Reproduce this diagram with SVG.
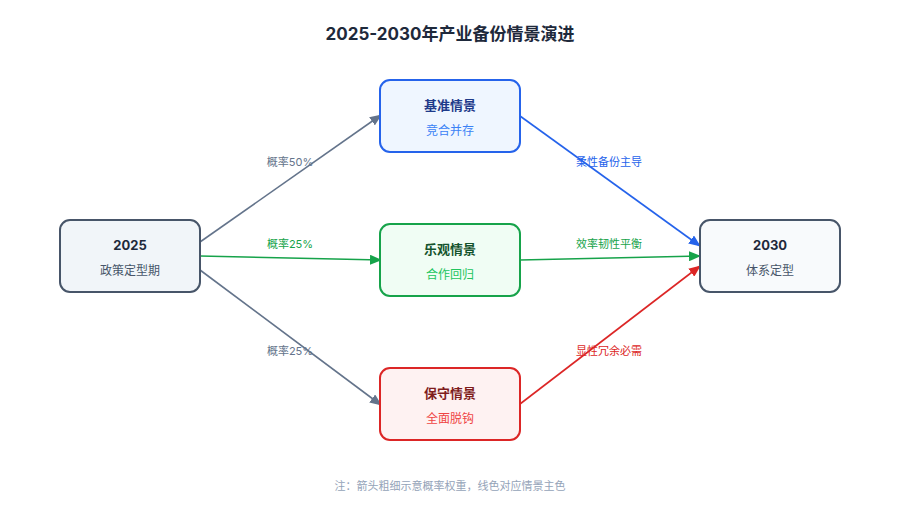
<svg xmlns="http://www.w3.org/2000/svg" width="900" height="520" viewBox="0 0 900 520">
<style>
text{font-family:"Inter","Noto Sans CJK SC",sans-serif;text-anchor:middle}
.title{font-size:17px;font-weight:700;fill:#1e293b}
.nt{font-size:13px;font-weight:700}
.ns{font-size:12px}
.lbl{font-size:11px}
.edge{fill:none;stroke-width:1.6}
.note{font-size:11px;fill:#94a3b8}
</style>
<defs>
<marker id="ag" viewBox="0 0 12 10" refX="11" refY="5" markerWidth="12" markerHeight="10" markerUnits="userSpaceOnUse" orient="auto"><path d="M0,0L12,5L0,10z" fill="#64748b"/></marker>
<marker id="agr" viewBox="0 0 12 10" refX="11" refY="5" markerWidth="12" markerHeight="10" markerUnits="userSpaceOnUse" orient="auto"><path d="M0,0L12,5L0,10z" fill="#16a34a"/></marker>
<marker id="ab" viewBox="0 0 12 10" refX="11" refY="5" markerWidth="12" markerHeight="10" markerUnits="userSpaceOnUse" orient="auto"><path d="M0,0L12,5L0,10z" fill="#2563eb"/></marker>
<marker id="ar" viewBox="0 0 12 10" refX="11" refY="5" markerWidth="12" markerHeight="10" markerUnits="userSpaceOnUse" orient="auto"><path d="M0,0L12,5L0,10z" fill="#dc2626"/></marker>
</defs>
<rect width="900" height="520" fill="#ffffff"/>
<text class="title" x="450" y="40">2025-2030年产业备份情景演进</text>
<g id="connectors">
<line class="edge" x1="200" y1="242" x2="381" y2="115" stroke="#64748b" marker-end="url(#ag)"/>
<line class="edge" x1="200" y1="256" x2="381" y2="260" stroke="#16a34a" marker-end="url(#agr)"/>
<line class="edge" x1="200" y1="270" x2="381" y2="405" stroke="#64748b" marker-end="url(#ag)"/>
<line class="edge" x1="520" y1="116" x2="700" y2="246" stroke="#2563eb" marker-end="url(#ab)"/>
<line class="edge" x1="520" y1="260" x2="700" y2="256" stroke="#16a34a" marker-end="url(#agr)"/>
<line class="edge" x1="520" y1="404" x2="700" y2="266" stroke="#dc2626" marker-end="url(#ar)"/>
<text class="lbl" x="290" y="166" fill="#64748b">概率50%</text>
<text class="lbl" x="290" y="248" fill="#16a34a">概率25%</text>
<text class="lbl" x="290" y="355" fill="#64748b">概率25%</text>
<text class="lbl" x="609" y="166" fill="#2563eb">柔性备份主导</text>
<text class="lbl" x="609" y="248" fill="#16a34a">效率韧性平衡</text>
<text class="lbl" x="609" y="355" fill="#dc2626">显性冗余必需</text>
</g>
<g id="n2025">
<rect x="60" y="220" width="140" height="72" rx="10" fill="#f1f5f9" stroke="#475569" stroke-width="2"/>
<text class="nt" x="130" y="250" fill="#1e293b">2025</text>
<text class="ns" x="130" y="275" fill="#475569">政策定型期</text>
</g>
<g id="nbase">
<rect x="380" y="80" width="140" height="72" rx="10" fill="#eff6ff" stroke="#2563eb" stroke-width="2"/>
<text class="nt" x="450" y="110" fill="#1e3a8a">基准情景</text>
<text class="ns" x="450" y="135" fill="#3b82f6">竞合并存</text>
</g>
<g id="nopt">
<rect x="380" y="224" width="140" height="72" rx="10" fill="#f0fdf4" stroke="#16a34a" stroke-width="2"/>
<text class="nt" x="450" y="254" fill="#14532d">乐观情景</text>
<text class="ns" x="450" y="279" fill="#22c55e">合作回归</text>
</g>
<g id="ncons">
<rect x="380" y="368" width="140" height="72" rx="10" fill="#fef2f2" stroke="#dc2626" stroke-width="2"/>
<text class="nt" x="450" y="398" fill="#7f1d1d">保守情景</text>
<text class="ns" x="450" y="423" fill="#ef4444">全面脱钩</text>
</g>
<g id="n2030">
<rect x="700" y="220" width="140" height="72" rx="10" fill="#f8fafc" stroke="#475569" stroke-width="2"/>
<text class="nt" x="770" y="250" fill="#1e293b">2030</text>
<text class="ns" x="770" y="275" fill="#475569">体系定型</text>
</g>
<text class="note" x="450" y="490">注：箭头粗细示意概率权重，线色对应情景主色</text>
</svg>
